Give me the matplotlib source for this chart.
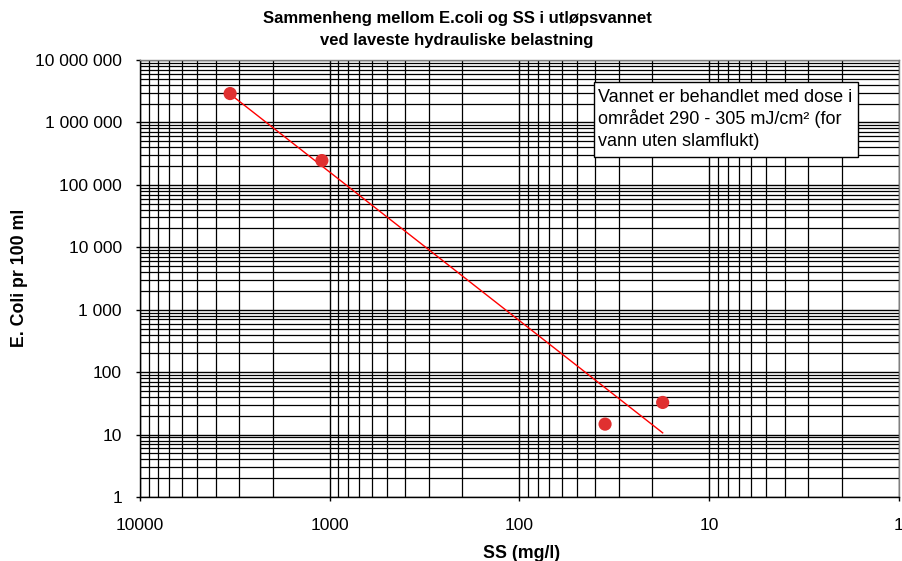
import numpy as np
import matplotlib
matplotlib.use("Agg")
import matplotlib.pyplot as plt
from matplotlib.patches import Rectangle
from matplotlib.ticker import FixedLocator, FuncFormatter, LogLocator, NullFormatter

plt.rcParams['font.family'] = ['Liberation Sans', 'DejaVu Sans']

ss = [3350, 1100, 35.4, 17.6]
ecoli = [2.9e6, 2.45e5, 14.7, 32.7]
x_ticks = [10000, 1000, 100, 10, 1]
y_ticks = [1, 10, 100, 1000, 10000, 100000, 1000000, 10000000]

W, H = 903, 561
fig = plt.figure(figsize=(W/100, H/100), dpi=100)
ax = fig.add_axes([140/W, 1-497/H, (899-140)/W, (497-60)/H])
ax.set_xscale('log')
ax.set_yscale('log')
ax.set_xlim(10000, 1)
ax.set_ylim(1, 1e7)

ax.xaxis.set_major_locator(FixedLocator(x_ticks))
ax.yaxis.set_major_locator(FixedLocator(y_ticks))
ax.xaxis.set_minor_locator(LogLocator(base=10, subs=np.arange(2, 10)))
ax.yaxis.set_minor_locator(LogLocator(base=10, subs=np.arange(2, 10)))
ax.xaxis.set_minor_formatter(NullFormatter())
ax.yaxis.set_minor_formatter(NullFormatter())
ax.xaxis.set_major_formatter(FuncFormatter(lambda v, p: f"{int(round(v))}"))
ax.yaxis.set_major_formatter(FuncFormatter(lambda v, p: f"{int(round(v)):,}".replace(",", " ")))

ax.grid(True, which='major', color='black', linewidth=1.0)
ax.grid(True, which='minor', color='black', linewidth=0.9)
ax.set_axisbelow(True)
ax.tick_params(which='major', direction='out', length=3, width=1, labelsize=12.6)
ax.tick_params(axis='y', which='major', pad=10)
ax.tick_params(axis='x', which='major', pad=12)
ax.tick_params(which='minor', length=0)
for s in ax.spines.values():
    s.set_color('#808080')
    s.set_linewidth(1)
ax.spines['bottom'].set_color('black')
ax.spines['left'].set_color('black')

# power trendline
lx = np.log10(ss)
ly = np.log10(ecoli)
b, a = np.polyfit(lx, ly, 1)
xs = np.logspace(lx.min(), lx.max(), 50)
ax.plot(xs, 10**(a + b*np.log10(xs)), color='#FF0000', linewidth=1, zorder=3)
ax.scatter(ss, ecoli, s=90, color='#E03030', zorder=4, edgecolors='none')

fig.text(457/W, 1-18/H, "Sammenheng mellom E.coli og SS i utløpsvannet",
         fontsize=12, fontweight='bold', ha='center', va='center')
fig.text(457/W, 1-41/H, "ved laveste hydrauliske belastning",
         fontsize=12, fontweight='bold', ha='center', va='center')
fig.text(522/W, 1-553/H, "SS (mg/l)", fontsize=12.8, fontweight='bold', ha='center', va='center')
fig.text(20/W, 1-278/H, "E. Coli pr 100 ml", fontsize=12.8, fontweight='bold',
         ha='center', va='center', rotation=90)

fig.patches.append(Rectangle((594/W, 1-157/H), (858-594)/W, (157-82)/H,
                             transform=fig.transFigure, facecolor='white',
                             edgecolor='black', linewidth=1, zorder=5))
for i, line in enumerate(["Vannet er behandlet med dose i",
                          "området 290 - 305 mJ/cm² (for",
                          "vann uten slamflukt)"]):
    fig.text(598/W, 1-(97 + 22*i)/H, line, fontsize=13, ha='left', va='center', zorder=6)

fig.savefig("out.png", dpi=100)
